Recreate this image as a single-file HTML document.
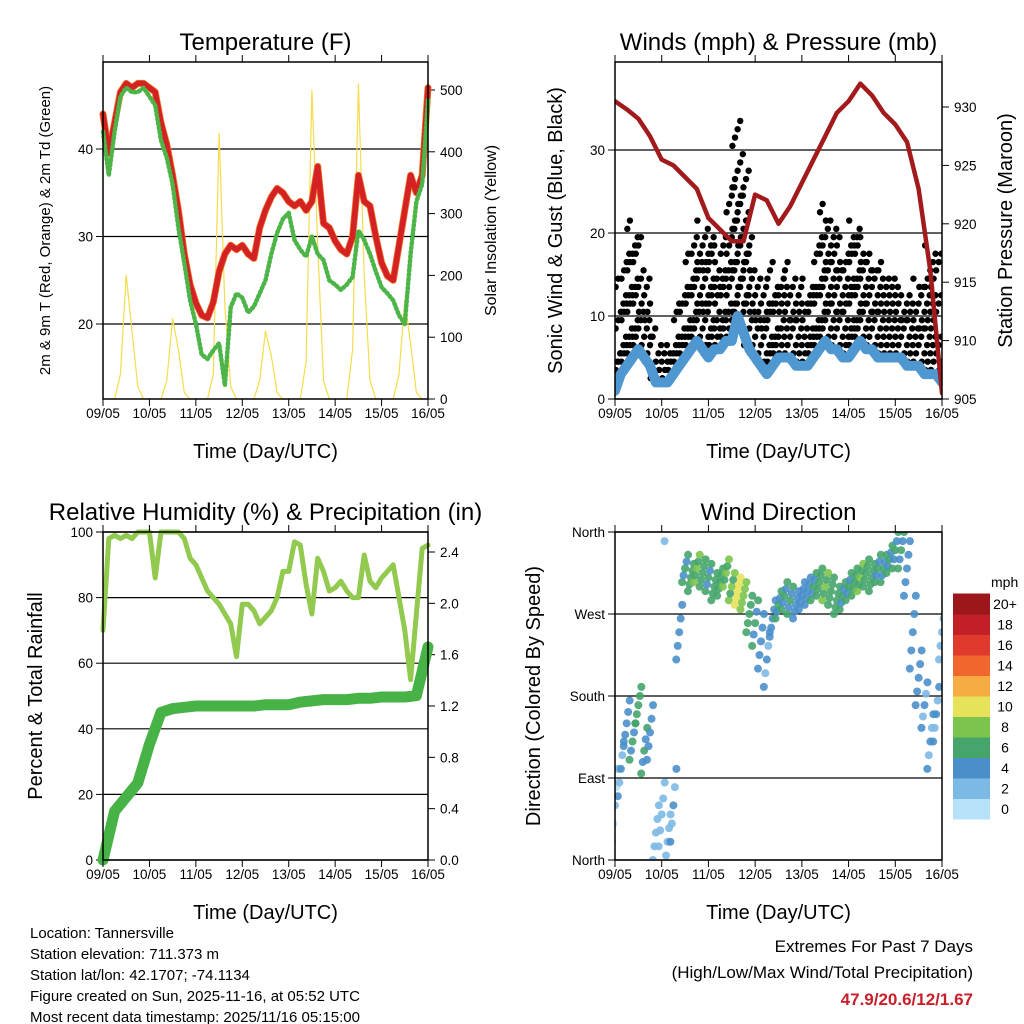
<!DOCTYPE html>
<html><head><meta charset="utf-8"><style>
html,body{margin:0;padding:0;background:#fff;}
svg{display:block;font-family:"Liberation Sans",Arial,sans-serif;}
</style></head><body>
<svg id="c" width="1024" height="1024" viewBox="0 0 1024 1024"></svg>
<script>
// ---------- DATA (3-hourly from 09/05 00 UTC, 57 points) ----------
const dayLabels = ["09/05","10/05","11/05","12/05","13/05","14/05","15/05","16/05"];
const temp2m = [44,39.5,43,46.5,47.5,47,47.5,47.5, 47,46.5,43,40.5,37,33,28,24.5, 22.4,21,20.7,22.5,26,28,29,28.5, 29,28,27.5,31,33,34.5,35.5,35, 34,33.5,34,33,34,38,31.5,31, 29.5,28.5,28,30,37,34,33.5,30, 27,25.5,25,29,33,37,35,37, 47];
const dewpt = [42,37,42,46,47,46.5,46.5,47, 46,45,41,39,36,31,27,22.7, 20,16.5,16,17,17.8,13,21.9,23.5, 23,21.3,22,23.5,25,28,30.4,32, 32.7,29.6,28.5,27.7,30,28,27.3,25, 24.5,23.9,24.5,25.4,30.7,29.6,28,26, 24.2,23.5,22.7,21,20,28,34,36, 45.6];
const solar = [0,0,0,40,200,110,20,0, 0,0,0,30,130,80,10,0, 0,0,0,40,430,150,20,0, 0,0,0,30,110,70,10,0, 0,0,0,60,500,250,30,0, 0,0,0,80,510,200,30,0, 0,0,0,40,160,90,10,0, 0];
const windSpd = [1,3,4,5,6,5,4,2, 2,2,3,4,5,6,7,6, 5,6,6,7,7,10,8,6, 5,4,3,4,5,5,5,4, 4,4,5,6,7,6,6,5, 5,6,7,6,6,5,5,5, 5,5,4,4,4,3,3,3, 2];
const gust = [6,15,18,22,20,15,12,8, 7,6,8,12,14,18,20,22, 20,19,17,20,26,34,28,20, 16,14,12,17,15,14,17,14, 12,15,14,20,24,22,20,17, 20,22,20,18,18,16,17,15, 14,13,13,12,15,14,19,18, 8];
const windDir = [60,100,150,130,170,120,140,30, 50,20,60,250,320,310,320,315, 310,300,305,315,300,295,290,270, 260,240,220,265,280,290,285,280, 290,295,300,305,300,295,285,290, 300,305,310,315,310,320,320,330, 340,340,320,250,200,170,130,160, 250];
const dirSpread = [80,60,50,40,40,50,60,60, 70,60,80,60,30,30,30,30, 30,30,30,30,30,30,30,40, 50,60,60,40,30,30,30,30, 30,30,30,30,30,30,30,30, 30,30,30,30,30,30,30,30, 40,40,60,80,60,50,60,60, 60];
const rh = [70,98,99,98,99,98,100,100, 100,86,100,100,100,100,98,92, 90,86,82,80,78,75,72,62, 78,78,76,72,74,76,80,88, 88,97,96,84,75,92,88,82, 83,85,82,80,80,93,85,83, 86,88,90,80,70,55,75,95, 96];
// 6-hourly (29 points)
const pressure = [930.5,929.8,929,927.5,925.5,925,924,923,920.5,919.5,918.5,918.5,922.5,922,920,921.5,923.5,925.5,927.5,929.5,930.5,932,931,929.5,928.5,927,923,916,905.5];
const precip = [0,0.38,0.49,0.6,0.9,1.15,1.18,1.19,1.2,1.2,1.2,1.2,1.2,1.2,1.21,1.21,1.21,1.23,1.24,1.25,1.25,1.25,1.26,1.26,1.27,1.27,1.27,1.28,1.66];
const spdBins = ["0","2","4","6","8","10","12","14","16","18","20+"];
const spdColors = ["#b5e2f8","#7db9e5","#4a8fca","#45a56b","#7cc44d","#e6e25a","#f6ab45","#f0662c","#df3a2c","#c21f29","#9b171c"];
const tempTicks = [20,30,40];
const solarTicks = [0,100,200,300,400,500];
const windTicks = [0,10,20,30];
const presTicks = [905,910,915,920,925,930];
const rhTicks = [0,20,40,60,80,100];
const precipTicks = [0.0,0.4,0.8,1.2,1.6,2.0,2.4];
const dirTicks = ["North","East","South","West","North"];

const NS='http://www.w3.org/2000/svg';
const svg=document.getElementById('c');
function el(tag,attrs,parent,text){const e=document.createElementNS(NS,tag);for(const k in attrs)e.setAttribute(k,attrs[k]);if(text!==undefined)e.textContent=text;(parent||svg).appendChild(e);return e;}
function lin(d0,d1,r0,r1){return v=>r0+(v-d0)/(d1-d0)*(r1-r0);}

function panel(name,x0,x1,y0,y1){
  const g=el('g',{},svg);
  
  
  return {g,x0,x1,y0,y1,xs:lin(0,7,x0,x1)};
}
function frame(p){
  const r=el('rect',{x:p.x0,y:p.y0,width:p.x1-p.x0,height:p.y1-p.y0,fill:'none',stroke:'#000','stroke-width':1.5},p.g);
  
  
}
function xAxis(p,title){
  for(let i=0;i<dayLabels.length;i++){
    const x=p.xs(i);
    el('line',{x1:x,x2:x,y1:p.y1,y2:p.y1+7,stroke:'#000'},p.g);
    el('line',{x1:x,x2:x,y1:p.y0,y2:p.y0-7,stroke:'#000'},p.g);
    const t=el('text',{x:x,y:p.y1+19,'font-size':13.5,'text-anchor':'middle'},p.g,dayLabels[i]);
    
    
  }
  const tt=el('text',{x:(p.x0+p.x1)/2,y:p.y1+59,'font-size':20,'text-anchor':'middle'},p.g,title);
  
  
}
function yAxisL(p,ticks,ys,labels,grid,title,tx,fs){
  ticks.forEach((v,i)=>{
    const y=ys(v);
    if(grid) el('line',{x1:p.x0,x2:p.x1,y1:y,y2:y,stroke:'#000','stroke-width':1.2},p.g);
    el('line',{x1:p.x0-7,x2:p.x0,y1:y,y2:y,stroke:'#000'},p.g);
    const t=el('text',{x:p.x0-10,y:y+5,'font-size':13.5,'text-anchor':'end'},p.g,labels?labels[i]:v);
    
    
  });
  const cy=(p.y0+p.y1)/2;
  const tt=el('text',{x:tx,y:cy,'font-size':fs,'text-anchor':'middle',transform:`rotate(-90 ${tx} ${cy})`},p.g,title);
  
  
}
function yAxisR(p,ticks,ys,fmt,title,tx,fs){
  ticks.forEach(v=>{
    const y=ys(v);
    el('line',{x1:p.x1,x2:p.x1+7,y1:y,y2:y,stroke:'#000'},p.g);
    const t=el('text',{x:p.x1+12,y:y+5,'font-size':13.5,'text-anchor':'start'},p.g,fmt(v));
    
    
  });
  if(!title) return;
  const cy=(p.y0+p.y1)/2;
  const tt=el('text',{x:tx,y:cy,'font-size':fs,'text-anchor':'middle',transform:`rotate(-90 ${tx} ${cy})`},p.g,title);
  
  
}
function title(p,txt){
  const t=el('text',{x:(p.x0+p.x1)/2,y:p.y0-12,'font-size':24,'text-anchor':'middle'},p.g,txt);
  
  
}
function path(p,arr,ys,step,attrs,name){
  const pts=arr.map((v,i)=>p.xs(i*step).toFixed(1)+','+ys(v).toFixed(1)).join(' ');
  const e=el('polyline',Object.assign({points:pts,fill:'none','stroke-linejoin':'round','stroke-linecap':'round'},attrs),p.g);
  
  
  return e;
}
function clip(p,id){const cp=el('clipPath',{id:id},svg);el('rect',{x:p.x0,y:p.y0,width:p.x1-p.x0,height:p.y1-p.y0},cp);}

// ---------- PANEL 1: Temperature ----------
const p1=panel('temperature-panel',103,428,62,399);
const t1=lin(20,40,324,149), s1=lin(0,500,399,90);
clip(p1,'cp1');
title(p1,'Temperature (F)');
yAxisL(p1,tempTicks,t1,null,true,'2m & 9m T (Red, Orange) & 2m Td (Green)',50,15);
yAxisR(p1,solarTicks,s1,v=>v,'Solar Insolation (Yellow)',496,16);
path(p1,solar,s1,0.125,{stroke:'#f7dc4a','stroke-width':1.2,'clip-path':'url(#cp1)'},'solar-line');
path(p1,temp2m,t1,0.125,{stroke:'#f07a2a','stroke-width':7},'temp-9m-line');
path(p1,temp2m,t1,0.125,{stroke:'#d42224','stroke-width':5.5},'temp-2m-line');
path(p1,dewpt,t1,0.125,{stroke:'#4db548','stroke-width':4.5,'stroke-dasharray':'1.5 3'},'dewpoint-line');
frame(p1); xAxis(p1,'Time (Day/UTC)');

// ---------- PANEL 2: Winds ----------
const p2=panel('winds-panel',615,942,62,399);
const w2=lin(0,30,399,150), pr2=lin(905,930,399,107);
clip(p2,'cp2');
title(p2,'Winds (mph) & Pressure (mb)');
yAxisL(p2,windTicks,w2,null,true,'Sonic Wind & Gust (Blue, Black)',562,20);
yAxisR(p2,presTicks,pr2,v=>v,'Station Pressure (Maroon)',1012,20);
const gg=el('g',{'clip-path':'url(#cp2)'},p2.g);
gust.forEach((g,i)=>{
  const x=p2.xs(i*0.125);
  const lo=windSpd[i];
  let k=0;
  for(let v=lo+0.5;v<=g;v+=1.0){
    const off=((k%5)-2)*2.6; k++;
    const d=el('circle',{cx:x+off,cy:w2(v),r:3.2,fill:'#000'},gg);
    
    
  }
});
path(p2,windSpd,w2,0.125,{stroke:'#4f97d0','stroke-width':10,'clip-path':'url(#cp2)'},'wind-speed-line');
path(p2,pressure,pr2,0.25,{stroke:'#a21a1c','stroke-width':4.5,'clip-path':'url(#cp2)'},'pressure-line');
frame(p2); xAxis(p2,'Time (Day/UTC)');

// ---------- PANEL 3: RH & Precip ----------
const p3=panel('humidity-precip-panel',103,428,532,860);
const r3=lin(0,100,860,532), pc3=lin(0,2.4,860,552);
clip(p3,'cp3');
title(p3,'Relative Humidity (%) & Precipitation (in)');
yAxisL(p3,rhTicks,r3,null,true,'Percent & Total Rainfall',42,20);
yAxisR(p3,precipTicks,pc3,v=>v.toFixed(1),'',0,1);
path(p3,rh,r3,0.125,{stroke:'#92c94f','stroke-width':5},'rh-line');
path(p3,precip,pc3,0.25,{stroke:'#47b347','stroke-width':11},'precip-line');
frame(p3); xAxis(p3,'Time (Day/UTC)');

// ---------- PANEL 4: Wind Direction ----------
const p4=panel('wind-direction-panel',615,942,532,860);
const d4=lin(0,360,860,532);
clip(p4,'cp4');
title(p4,'Wind Direction');
yAxisL(p4,[0,90,180,270,360],d4,dirTicks,true,'Direction (Colored By Speed)',540,20);
function binColor(s){let k=Math.max(0,Math.min(10,Math.round(s/2)));return spdColors[k];}
windDir.forEach((d,i)=>{
  const x=p4.xs(i*0.125);
  const sp=dirSpread[i];
  [-0.5,-0.25,0,0.25,0.5].forEach((f,j)=>{
    let v=d+f*sp; if(v<0)v+=360; if(v>360)v-=360;
    const c=el('circle',{cx:x+(j-2)*1.5,cy:d4(v),r:4,fill:binColor(windSpd[i]-(j%2)),'fill-opacity':0.9,'clip-path':'url(#cp4)'},p4.g);
    
    
  });
});
frame(p4); xAxis(p4,'Time (Day/UTC)');

// colorbar
const cb=el('g',{},svg);


const cbT=el('text',{x:991,y:587,'font-size':14},cb,'mph');


spdBins.forEach((lab,i)=>{
  const h=20.5, y=819-(i+1)*h;
  const r=el('rect',{x:953,y:y,width:37,height:h+0.5,fill:spdColors[i]},cb);
  
  
  const t=el('text',{x:1005,y:y+h/2+5,'font-size':14,'text-anchor':'middle'},cb,lab);
  
  
});
</script>
<svg width="1024" height="1024" style="position:absolute;left:0;top:0;font-family:'Liberation Sans',Arial,sans-serif">
<text x="30" y="938" font-size="15">Location: Tannersville</text>
<text x="30" y="959" font-size="15">Station elevation: 711.373 m</text>
<text x="30" y="980" font-size="15">Station lat/lon: 42.1707; -74.1134</text>
<text x="30" y="1001" font-size="15">Figure created on Sun, 2025-11-16, at 05:52 UTC</text>
<text x="30" y="1022" font-size="15">Most recent data timestamp: 2025/11/16 05:15:00</text>
<text x="973" y="952" font-size="17" text-anchor="end">Extremes For Past 7 Days</text>
<text x="973" y="978" font-size="17" text-anchor="end">(High/Low/Max Wind/Total Precipitation)</text>
<text x="973" y="1005" font-size="17" font-weight="bold" fill="#c8202a" text-anchor="end">47.9/20.6/12/1.67</text>
</svg>
</body></html>
